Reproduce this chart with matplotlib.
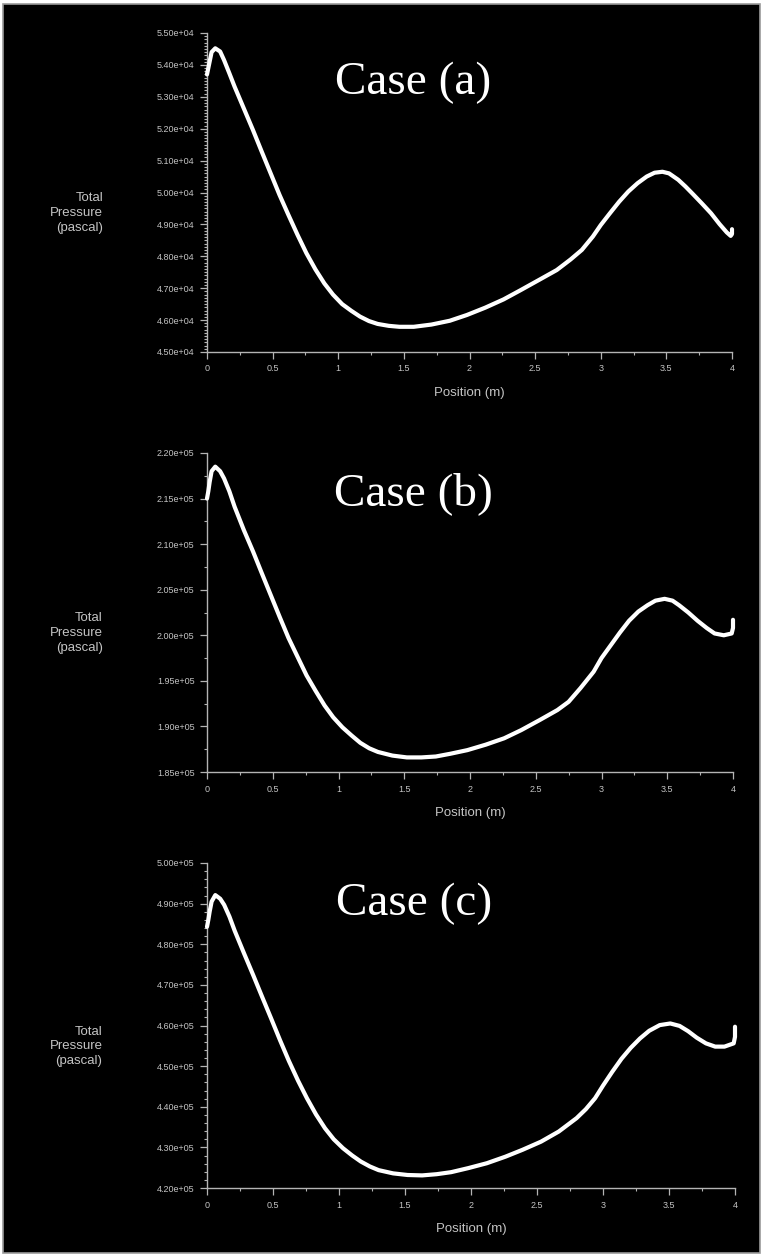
import matplotlib
matplotlib.use('Agg')
import matplotlib.pyplot as plt
from matplotlib.ticker import FixedLocator, MultipleLocator, FuncFormatter
from matplotlib.patches import Rectangle

# ---------------- data ----------------
pos_a = [0.0, 0.01, 0.02, 0.035, 0.063, 0.10, 0.13, 0.17, 0.21, 0.28, 0.35, 0.417, 0.485, 0.553,
         0.62, 0.69, 0.757, 0.826, 0.894, 0.96, 1.03, 1.10, 1.166, 1.234, 1.30, 1.385, 1.466,
         1.575, 1.71, 1.85, 1.98, 2.12, 2.26, 2.39, 2.53, 2.665, 2.77, 2.856, 2.94, 3.0, 3.07,
         3.14, 3.21, 3.28, 3.35, 3.41, 3.47, 3.52, 3.59, 3.645, 3.70, 3.77, 3.84, 3.905, 3.96,
         3.99, 4.0, 4.0]
p_a = [53700, 53900, 54100, 54400, 54520, 54420, 54150, 53740, 53320, 52640, 51960, 51280, 50600,
       49920, 49300, 48670, 48100, 47590, 47150, 46800, 46500, 46290, 46110, 45970, 45880, 45820,
       45790, 45790, 45860, 45980, 46160, 46390, 46650, 46940, 47260, 47570, 47900, 48200, 48620,
       48980, 49350, 49710, 50030, 50290, 50500, 50620, 50650, 50600, 50400, 50190, 49960, 49660,
       49350, 49010, 48750, 48640, 48700, 48850]

pos_b = [0.0, 0.01, 0.02, 0.035, 0.063, 0.10, 0.13, 0.17, 0.21, 0.28, 0.35, 0.417, 0.485, 0.553,
         0.62, 0.69, 0.757, 0.826, 0.894, 0.96, 1.03, 1.10, 1.166, 1.234, 1.30, 1.41, 1.52, 1.63,
         1.74, 1.85, 1.98, 2.12, 2.26, 2.39, 2.53, 2.665, 2.75, 2.84, 2.94, 3.0, 3.07, 3.14, 3.21,
         3.28, 3.35, 3.41, 3.48, 3.54, 3.59, 3.66, 3.73, 3.80, 3.86, 3.93, 3.99, 4.0, 4.0]
p_b = [215000, 215800, 216800, 218000, 218500, 218000, 217200, 215800, 214100, 211550, 209200,
       206800, 204400, 202000, 199700, 197600, 195600, 193900, 192300, 191000, 189900, 189000,
       188200, 187600, 187200, 186800, 186600, 186600, 186700, 187000, 187400, 188000, 188700,
       189600, 190700, 191800, 192700, 194200, 196000, 197500, 198900, 200300, 201600, 202600,
       203300, 203800, 204000, 203800, 203300, 202500, 201600, 200800, 200200, 200000, 200200,
       200800, 201700]

pos_c = [0.0, 0.01, 0.02, 0.035, 0.063, 0.10, 0.13, 0.17, 0.21, 0.28, 0.35, 0.417, 0.485, 0.553,
         0.62, 0.69, 0.757, 0.826, 0.894, 0.96, 1.03, 1.10, 1.166, 1.234, 1.30, 1.41, 1.52, 1.63,
         1.74, 1.85, 1.98, 2.12, 2.26, 2.39, 2.53, 2.665, 2.80, 2.87, 2.94, 3.0, 3.07, 3.14, 3.21,
         3.28, 3.35, 3.43, 3.51, 3.58, 3.645, 3.71, 3.78, 3.85, 3.92, 3.99, 4.0, 4.0]
p_c = [484300, 486000, 488000, 490500, 492100, 491200, 489700, 486800, 483300, 477800, 472400,
       467100, 461800, 456400, 451300, 446400, 442100, 438100, 434700, 432000, 429800, 428000,
       426500, 425300, 424400, 423600, 423200, 423100, 423400, 423900, 424900, 426100, 427700,
       429400, 431400, 433900, 437200, 439400, 442100, 445200, 448600, 451800, 454500, 456800,
       458700, 460100, 460500, 459900, 458600, 457000, 455600, 454800, 454800, 455600, 457200,
       459700]

yticks_a = [45000, 46000, 47000, 48000, 49000, 50000, 51000, 52000, 53000, 54000, 55000]
yticks_b = [185000, 190000, 195000, 200000, 205000, 210000, 215000, 220000]
yticks_c = [420000, 430000, 440000, 450000, 460000, 470000, 480000, 490000, 500000]
xticks = [0, 0.5, 1, 1.5, 2, 2.5, 3, 3.5, 4]
xtick_labels = ['0', '0.5', '1', '1.5', '2', '2.5', '3', '3.5', '4']
case_labels = ['Case (a)', 'Case (b)', 'Case (c)']

# ---------------- figure ----------------
W, H = 763, 1256
fig = plt.figure(figsize=(W / 100, H / 100), dpi=100, facecolor='white')
fig.patches.append(Rectangle((3 / W, 3 / H), 757 / W, 1249 / H, transform=fig.transFigure,
                             facecolor='black', edgecolor='#9a9a9a', lw=1.2, zorder=-10))

GRAY = '#b4b4b4'
LBL = '#c4c4c4'

panels = [
    ((207, 33, 732, 352), pos_a, p_a, yticks_a, 100, 0.81),
    ((207, 453, 733, 772), pos_b, p_b, yticks_b, 2500, 0.837),
    ((207, 863, 735, 1188), pos_c, p_c, yticks_c, 2000, 0.84),
]

for i, ((l, t, r, b), xs, ys, yt, mstep, cy) in enumerate(panels):
    ax = fig.add_axes([l / W, 1 - b / H, (r - l) / W, (b - t) / H])
    ax.patch.set_alpha(0)
    ax.plot(xs, ys, color='white', lw=3.0, solid_capstyle='round', solid_joinstyle='round',
            zorder=3, clip_on=False)
    ax.set_xlim(0, 4)
    ax.set_ylim(yt[0], yt[-1])
    for s in ['top', 'right']:
        ax.spines[s].set_visible(False)
    for s in ['left', 'bottom']:
        ax.spines[s].set_color(GRAY)
        ax.spines[s].set_linewidth(1.0)
    ax.yaxis.set_major_locator(FixedLocator(yt))
    ax.yaxis.set_minor_locator(MultipleLocator(mstep))
    ax.yaxis.set_major_formatter(FuncFormatter(lambda v, p: f"{v:.2e}"))
    ax.set_xticks(xticks)
    ax.set_xticklabels(xtick_labels)
    ax.xaxis.set_minor_locator(MultipleLocator(0.25))
    ax.tick_params(axis='both', which='major', colors=GRAY, labelcolor=LBL, labelsize=6.5,
                   direction='out', length=5, width=0.9, pad=4)
    ax.tick_params(axis='both', which='minor', colors=GRAY, direction='out', length=2.5, width=0.8)
    for lab in ax.get_xticklabels() + ax.get_yticklabels():
        lab.set_family('Liberation Sans')
    ax.set_xlabel('Position (m)', color=LBL, fontsize=9.5, family='Liberation Sans', labelpad=10)
    ax.text(-0.198, 0.436, 'Total\nPressure\n(pascal)', transform=ax.transAxes, ha='right',
            va='center', multialignment='right', color=LBL, fontsize=9.5,
            family='Liberation Sans', linespacing=1.3)
    ax.text(0.392, cy, case_labels[i], transform=ax.transAxes, ha='center', va='baseline',
            color='white', fontsize=34, family='Liberation Serif')

fig.savefig('out.png', dpi=100, facecolor=fig.get_facecolor())
